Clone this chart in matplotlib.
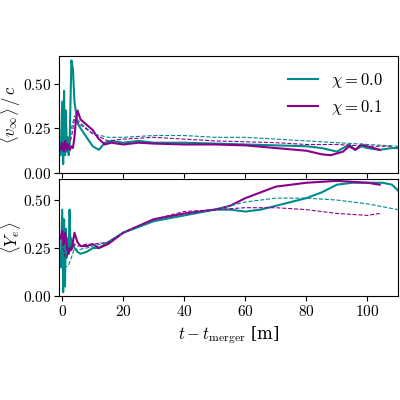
import matplotlib
matplotlib.use("Agg")
import matplotlib.pyplot as plt

plt.rcParams["mathtext.fontset"] = "cm"
plt.rcParams["font.family"] = "serif"
plt.rcParams["font.serif"] = ["DejaVu Serif"]

teal = "#008b8b"
purple = "#8b008b"

# top panel: <v_inf>/c
t_v0 = [-0.5, 0, 0.3, 0.6, 0.9, 1.2, 1.5, 1.8, 2.1, 2.4, 2.7, 3.0, 3.5, 4, 5, 6, 8, 10, 12, 14, 16, 20, 25, 30, 40, 50, 60, 70, 80, 85, 90, 92, 94, 96, 98, 100, 104, 108, 110]
v0 = [0.10, 0.40, 0.05, 0.46, 0.10, 0.35, 0.12, 0.20, 0.10, 0.15, 0.40, 0.63, 0.58, 0.40, 0.28, 0.25, 0.20, 0.15, 0.13, 0.17, 0.18, 0.17, 0.18, 0.17, 0.17, 0.165, 0.16, 0.155, 0.15, 0.14, 0.12, 0.14, 0.16, 0.13, 0.15, 0.14, 0.13, 0.14, 0.14]
t_v1 = [-0.5, 0, 0.5, 1, 1.5, 2, 2.5, 3, 3.5, 4, 4.5, 5, 6, 8, 10, 12, 14, 16, 20, 25, 30, 40, 50, 60, 70, 80, 85, 88, 90, 92, 94, 96, 98, 100, 104]
v1 = [0.13, 0.17, 0.12, 0.18, 0.13, 0.16, 0.13, 0.15, 0.14, 0.20, 0.30, 0.35, 0.30, 0.27, 0.24, 0.19, 0.16, 0.17, 0.16, 0.17, 0.165, 0.16, 0.16, 0.155, 0.14, 0.125, 0.105, 0.10, 0.11, 0.12, 0.15, 0.13, 0.16, 0.15, 0.13]
t_v0d = [2, 3, 4, 6, 10, 15, 20, 30, 40, 50, 60, 70, 80, 90, 100, 110]
v0d = [0.15, 0.25, 0.32, 0.28, 0.22, 0.20, 0.20, 0.21, 0.21, 0.20, 0.20, 0.19, 0.18, 0.17, 0.16, 0.15]
t_v1d = [2, 3, 4, 6, 10, 15, 20, 30, 40, 50, 60, 70, 80, 90, 100, 108]
v1d = [0.15, 0.20, 0.30, 0.27, 0.22, 0.18, 0.19, 0.20, 0.19, 0.18, 0.175, 0.17, 0.16, 0.16, 0.15, 0.15]

# bottom panel: <Y_e>
t_y0 = [-0.5, 0, 0.3, 0.6, 0.9, 1.2, 1.5, 1.8, 2.1, 2.4, 2.7, 3, 4, 5, 6, 8, 10, 12, 15, 20, 30, 40, 50, 55, 60, 65, 70, 80, 85, 90, 95, 100, 105, 108, 110]
y0 = [0.15, 0.45, 0.02, 0.40, 0.05, 0.35, 0.20, 0.30, 0.22, 0.45, 0.25, 0.30, 0.25, 0.23, 0.22, 0.23, 0.25, 0.25, 0.28, 0.33, 0.39, 0.42, 0.45, 0.45, 0.44, 0.45, 0.47, 0.51, 0.54, 0.58, 0.59, 0.59, 0.59, 0.58, 0.55]
t_y1 = [-0.5, 0, 0.5, 1, 1.5, 2, 2.5, 3, 3.5, 4, 5, 6, 8, 10, 12, 15, 20, 30, 40, 50, 55, 60, 65, 70, 80, 90, 100, 104]
y1 = [0.30, 0.34, 0.27, 0.33, 0.26, 0.22, 0.25, 0.24, 0.28, 0.33, 0.28, 0.26, 0.26, 0.27, 0.25, 0.27, 0.33, 0.40, 0.43, 0.45, 0.47, 0.51, 0.54, 0.57, 0.59, 0.60, 0.59, 0.58]
t_y0d = [0, 1, 2, 3, 4, 5, 8, 10, 15, 20, 30, 40, 50, 60, 70, 80, 90, 100, 110]
y0d = [0.25, 0.15, 0.16, 0.20, 0.25, 0.24, 0.25, 0.26, 0.28, 0.33, 0.39, 0.42, 0.45, 0.49, 0.51, 0.51, 0.50, 0.48, 0.45]
t_y1d = [0, 1, 2, 3, 4, 5, 8, 10, 15, 20, 30, 40, 50, 60, 70, 80, 90, 100, 104]
y1d = [0.28, 0.20, 0.22, 0.24, 0.27, 0.26, 0.27, 0.27, 0.28, 0.33, 0.40, 0.44, 0.45, 0.46, 0.46, 0.45, 0.43, 0.42, 0.43]

fig, (ax1, ax2) = plt.subplots(2, 1, figsize=(4, 4), dpi=100, sharex=True)
fig.subplots_adjust(left=0.148, right=0.995, top=0.86, bottom=0.26, hspace=0.05)

ax1.plot(t_v0, v0, color=teal, lw=1.5, label=r"$\chi = 0.0$")
ax1.plot(t_v1, v1, color=purple, lw=1.5, label=r"$\chi = 0.1$")
ax1.plot(t_v0d, v0d, color=teal, lw=0.8, ls="--")
ax1.plot(t_v1d, v1d, color=purple, lw=0.8, ls="--")
ax1.set_ylim(0, 0.655)
ax1.set_yticks([0, 0.25, 0.5])
ax1.set_ylabel(r"$\langle v_\infty \rangle\,/\,c$", fontsize=12, labelpad=0)
ax1.legend(frameon=False, fontsize=12, loc="upper right", handlelength=1.8)

ax2.plot(t_y0, y0, color=teal, lw=1.5)
ax2.plot(t_y1, y1, color=purple, lw=1.5)
ax2.plot(t_y0d, y0d, color=teal, lw=0.8, ls="--")
ax2.plot(t_y1d, y1d, color=purple, lw=0.8, ls="--")
ax2.set_ylim(0, 0.61)
ax2.set_yticks([0, 0.25, 0.5])
ax2.set_ylabel(r"$\langle Y_e \rangle$", fontsize=12, labelpad=0)
ax2.set_xlim(-1, 110)
ax2.set_xticks([0, 20, 40, 60, 80, 100])
ax2.set_xlabel(r"$t - t_{\rm merger}$ [m]", fontsize=12)

fmt = matplotlib.ticker.FuncFormatter(lambda v, p: r"$%.2f$" % v)
ax1.yaxis.set_major_formatter(fmt)
ax2.yaxis.set_major_formatter(fmt)
ax2.xaxis.set_major_formatter(matplotlib.ticker.FuncFormatter(lambda v, p: r"$%d$" % v))
for ax in (ax1, ax2):
    ax.tick_params(labelsize=11, pad=2)

fig.savefig("out.png", dpi=100)
